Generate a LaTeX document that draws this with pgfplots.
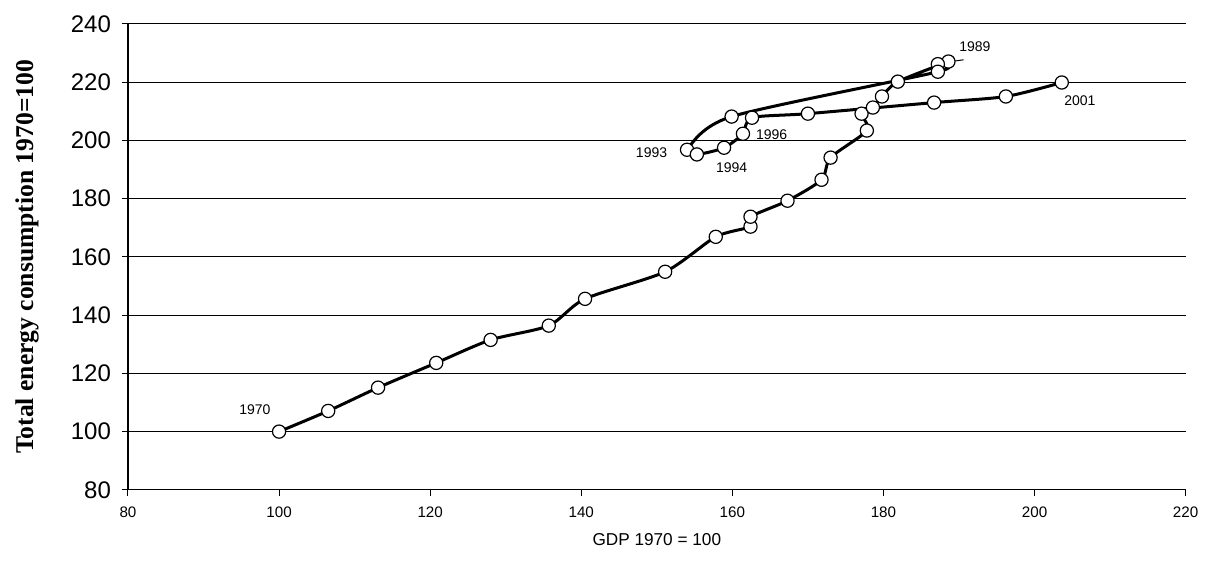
\documentclass[border=0pt]{standalone}
\usepackage{fontspec}
\setmainfont{Liberation Sans}
\newfontfamily\serifface{Liberation Serif}
\usepackage{pgfplots}
\pgfplotsset{compat=1.18}
\begin{document}
\begin{tikzpicture}
\begin{axis}[
  scale only axis, width=529pt, height=233pt,
  xmin=80, xmax=220, ymin=80, ymax=240,
  xtick={80,100,...,220}, ytick={80,100,...,240},
  axis x line*=bottom, axis y line*=left,
  ymajorgrids, grid style={black, line width=0.5pt},
  tick align=outside, major tick length=3pt,
  tick style={black, line width=0.5pt},
  axis line style={black, line width=0.6pt},
  /pgf/number format/assume math mode=true,
  /pgf/number format/1000 sep={},
  xticklabel style={font=\fontsize{7.6}{9}\selectfont, yshift=-2pt},
  yticklabel style={font=\fontsize{12}{14}\selectfont, xshift=-2pt},
  xlabel={GDP 1970 = 100},
  xlabel style={font=\fontsize{8.6}{10}\selectfont, at={(axis description cs:0.5,-0.107)}, anchor=center},
  ylabel={Total energy consumption 1970=100},
  ylabel style={font=\fontsize{12.8}{14}\selectfont\serifface\bfseries, at={(axis description cs:-0.0955,0.5)}, anchor=center},
  clip=false,
]
\path (axis description cs:-0.121,-0.1567) rectangle (axis description cs:1.018,1.0515);
\addplot[black, line width=1.5pt, smooth, tension=0.45, mark=*, mark size=3.3pt,
  mark options={fill=white, draw=black, line width=0.6pt, solid}] coordinates {
  (100,100)
  (106.5,107.1)
  (113.1,115.1)
  (120.8,123.6)
  (128.0,131.5)
  (135.7,136.4)
  (140.5,145.6)
  (151.1,154.9)
  (157.8,166.9)
  (162.4,170.4)
  (162.4,173.8)
  (167.3,179.3)
  (171.8,186.5)
  (173.0,194.1)
  (177.8,203.4)
  (177.1,209.2)
  (178.6,211.3)
  (179.8,215.1)
  (181.9,220.2)
  (188.6,227.1)
  (187.2,226.2)
  (187.2,223.6)
  (159.9,208.2)
  (154.0,196.8)
  (155.3,195.2)
  (158.9,197.5)
  (161.4,202.3)
  (162.6,207.8)
  (170.0,209.2)
  (186.7,213.0)
  (196.2,215.1)
  (203.6,219.9)
};
\draw[black, line width=0.5pt] (axis cs:189.5,227.3) -- (axis cs:190.6,227.7);
\node[font=\fontsize{7}{8}\selectfont] at (axis cs:96.8,107.5) {1970};
\node[font=\fontsize{7}{8}\selectfont] at (axis cs:192.1,232.2) {1989};
\node[font=\fontsize{7}{8}\selectfont] at (axis cs:206.0,213.7) {2001};
\node[font=\fontsize{7}{8}\selectfont] at (axis cs:149.3,195.8) {1993};
\node[font=\fontsize{7}{8}\selectfont] at (axis cs:159.9,190.7) {1994};
\node[font=\fontsize{7}{8}\selectfont] at (axis cs:165.2,202.0) {1996};
\end{axis}
\end{tikzpicture}
\end{document}
